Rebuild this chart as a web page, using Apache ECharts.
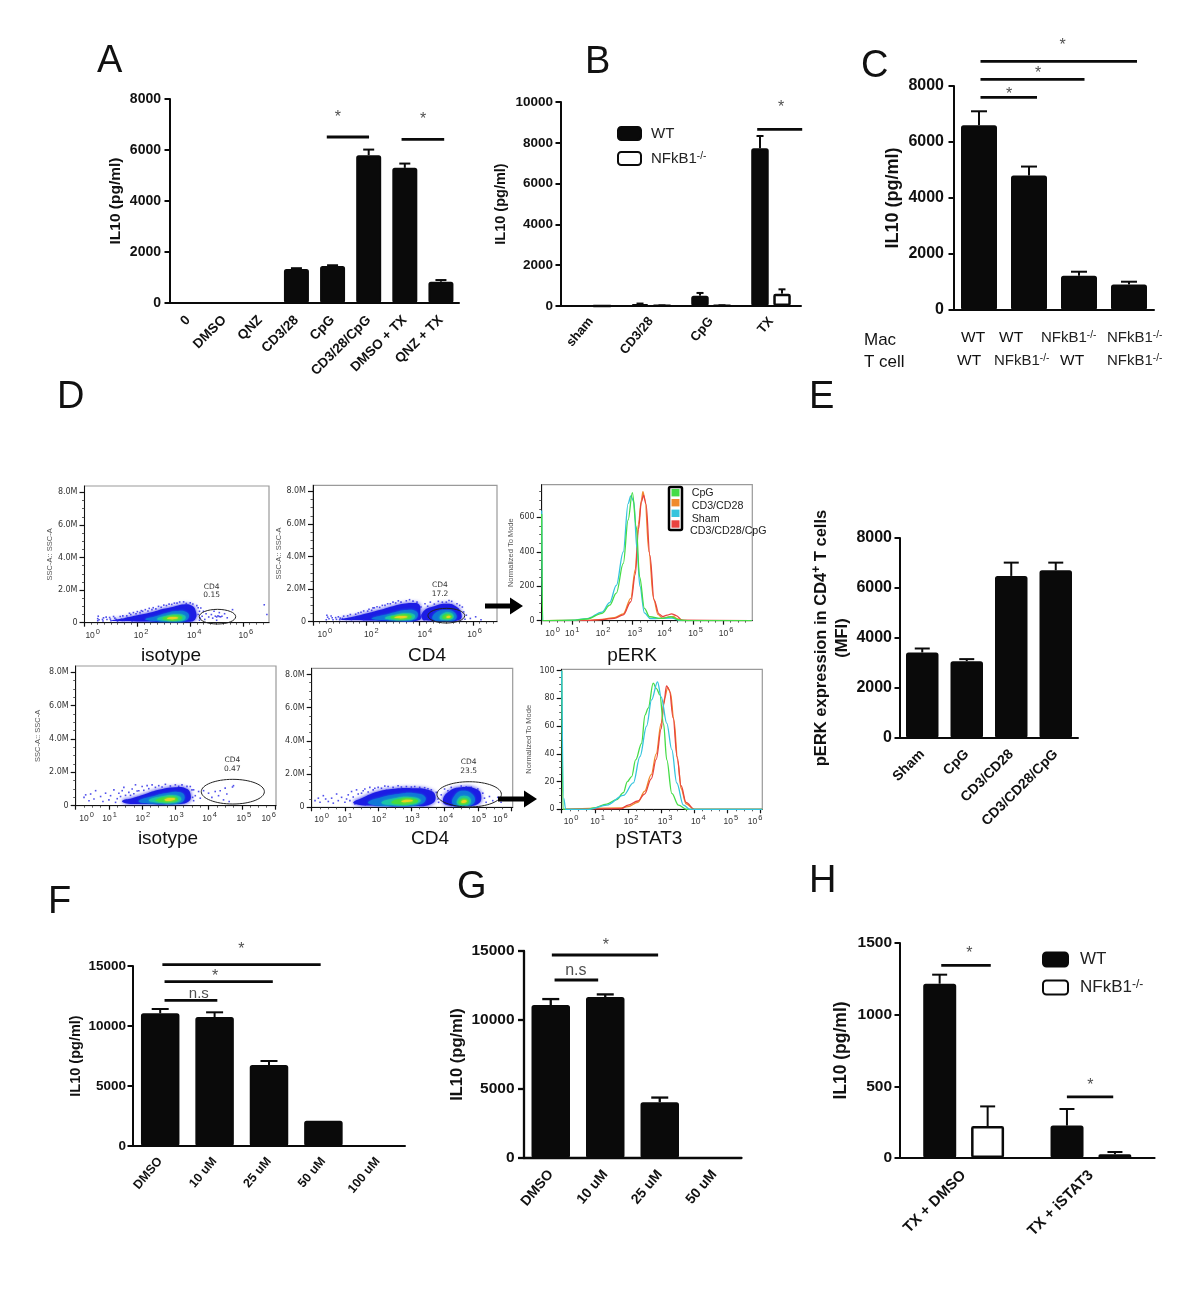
<!DOCTYPE html>
<html><head><meta charset="utf-8">
<style>html,body{margin:0;padding:0;background:#fff}#c{width:1200px;height:1307px}</style>
<script src="https://cdn.jsdelivr.net/npm/echarts@6/dist/echarts.min.js"></script>
</head><body><div id="c"></div>
<script>
// ---------- Bar panel data ----------
const catsA = ['0','DMSO','QNZ','CD3/28','CpG','CD3/28/CpG','DMSO + TX','QNZ + TX'];
const valsA = [0,0,0,1331,1450,5795,5300,835];
const errA  = [0,0,0,1365,1480,6016,5468,900];
const sigA  = [[4.34,5.51,6510],[6.41,7.59,6420]];
const markA = [[4.65,7255,'*'],[7.01,7175,'*']];

const catsB = ['sham','CD3/28','CpG','TX'];
const valsBwt = [0,98,506,7729];
const errBwt  = [0,120,640,8333];
const valsBko = [0,20,25,605];
const errBko  = [0,30,35,817];
const sigB  = [[3.27,4.02,8660]];
const markB = [[3.67,9720,'*']];

const catsC = ['WT/WT','WT/NFkB1-/-','NFkB1-/-/WT','NFkB1-/-/NFkB1-/-'];
const valsC = [6597,4802,1224,915];
const errC  = [7097,5123,1367,1010];
const sigC  = [[.53,3.66,8880],[.53,2.61,8240],[.53,1.66,7597]];
const markC = [[2.17,9427,'*'],[1.68,8430,'*'],[1.1,7680,'*']];

const catsE = ['Sham','CpG','CD3/CD28','CD3/CD28/CpG'];
const valsE = [3421,3075,6483,6709];
const errE  = [3580,3155,7015,7015];

const catsF = ['DMSO','10 uM','25 uM','50 uM','100 uM'];
const valsF = [11055,10750,6750,2111,0];
const errF  = [11417,11140,7083,2111,0];
const sigF  = [[.54,3.45,15108],[.58,2.57,13690],[.58,1.55,12140]];
const markF = [[1.99,16330,'*'],[1.51,14080,'*'],[1.21,12660,'n.s']];

const catsG = ['DMSO','10 uM','25 uM','50 uM'];
const valsG = [11080,11660,4040,0];
const errG  = [11516,11855,4379,0];
const sigG  = [[.52,2.47,14710],[.57,1.37,12900]];
const markG = [[1.51,15390,'*'],[.96,13580,'n.s']];

const catsH = ['TX + DMSO','TX + iSTAT3'];
const valsHwt = [1216,226];
const errHwt  = [1279,342];
const valsHko = [223,26];
const errHko  = [360,42];
const sigH  = [[.324,.713,1344],[1.311,1.675,426]];
const markH = [[.544,1429,'*'],[1.495,507,'*']];

// ---------- Flow cytometry data (x = log10 decade, y = SSC in millions) ----------
const BL='#1c1ce4', TE='#0f78d8', CY='#1cc4a8', GR='#45dc3c', YE='#e8d41e';
const densityIsoTop = [
 [BL,[[1.0,.14],[1.5,.28],[2,.45],[2.5,.62],[3,.85],[3.4,1.0],[3.75,1.12],[4.05,1.05],[4.2,.75],[4.2,.25],[3.95,.06],[3,.05],[2,.08],[1.2,.1]]],
 [TE,[[2.3,.22],[2.7,.4],[3.1,.6],[3.5,.72],[3.85,.65],[3.95,.35],[3.75,.1],[3.1,.08],[2.5,.12]]],
 [CY,[[2.75,.25],[3.1,.43],[3.5,.52],[3.8,.42],[3.78,.18],[3.4,.1],[2.95,.13]]],
 [GR,[[2.95,.27],[3.2,.4],[3.55,.44],[3.7,.3],[3.55,.16],[3.15,.15]]],
 [YE,[[3.12,.28],[3.35,.35],[3.55,.3],[3.42,.22],[3.2,.22]]]];
const strayIsoTop = [[.5,.12],[.5,.25],[.55,.18],[.52,.4],[.7,.1],[.72,.3],[.68,.2],[.85,.2],[.82,.34],[.95,.32],[1,.12],[.98,.22],[1.15,.28],[1.1,.38],[1.25,.1],[1.2,.2],[1.35,.38],[1.4,.22],[1.5,.14],[1.45,.42],[1.6,.42],[1.65,.3],[1.75,.5],[1.7,.58],[1.8,.1],[1.85,.62],[1.95,.55],[2.0,.68],[2.1,.62],[2.15,.74],[2.2,.7],[2.3,.8],[2.4,.72],[2.45,.88],[2.55,.8],[2.6,.92],[2.7,.85],[2.8,1.0],[2.9,.95],[3.0,1.08],[3.1,1.05],[3.2,1.14],[3.3,1.12],[3.4,1.2],[3.5,1.2],[3.6,1.27],[3.75,1.28],[3.85,1.18],[4,1.22],[4.1,1.15],[4.25,1.05],[4.3,.92],[4.4,.9],[4.35,.7],[4.5,.7],[4.3,.5],[4.45,.4],[4.6,.55],[4.38,.28],[4.55,.2],[4.35,.15],[4.7,.35],[4.8,.5],[4.85,.28],[4.95,.4],[5.0,.35],[5.05,.42],[5.1,.38],[5.15,.36],[5.2,.4],[5.1,.62],[4.9,.7],[5.3,.55],[5.4,.3],[6.8,1.1],[6.9,.5],[5.6,.8],[5.0,.15]];

const densityCd4Top = [
 [BL,[[1.0,.14],[1.5,.3],[2,.5],[2.5,.72],[3,.95],[3.4,1.1],[3.75,1.15],[3.98,1.05],[4.02,.6],[3.98,.1],[3,.05],[2,.08],[1.2,.1]]],
 [BL,[[4.1,.15],[4.15,.65],[4.55,.95],[5.0,1.1],[5.35,.95],[5.55,.55],[5.5,.12],[4.8,.05],[4.3,.08]]],
 [TE,[[2.2,.2],[2.7,.42],[3.1,.6],[3.5,.72],[3.85,.65],[3.93,.35],[3.75,.1],[3.1,.08],[2.4,.12]]],
 [CY,[[2.7,.25],[3.1,.43],[3.5,.52],[3.8,.42],[3.78,.18],[3.4,.1],[2.9,.13]]],
 [GR,[[2.9,.27],[3.2,.4],[3.55,.44],[3.7,.3],[3.55,.16],[3.1,.15]]],
 [YE,[[3.05,.28],[3.35,.35],[3.55,.3],[3.42,.22],[3.15,.22]]],
 [TE,[[4.5,.15],[4.6,.55],[5.0,.72],[5.32,.55],[5.35,.15],[5,.08]]],
 [CY,[[4.75,.2],[4.85,.48],[5.15,.55],[5.28,.32],[5.15,.13],[4.9,.12]]],
 [GR,[[4.85,.25],[4.98,.45],[5.15,.42],[5.22,.27],[5.05,.16]]],
 [YE,[[5.0,.28],[5.08,.36],[5.16,.3],[5.08,.22]]]];
const strayCd4Top = [[.5,.12],[.55,.28],[.6,.18],[.52,.4],[.68,.35],[.75,.12],[.72,.24],[.85,.25],[.88,.14],[.95,.3],[1,.12],[1.02,.22],[1.1,.2],[1.15,.34],[1.3,.36],[1.25,.14],[1.45,.14],[1.4,.44],[1.6,.46],[1.55,.24],[1.7,.54],[1.8,.58],[1.9,.12],[1.9,.66],[2.05,.65],[2.1,.76],[2.2,.7],[2.25,.85],[2.3,.85],[2.4,.92],[2.5,.88],[2.6,1.0],[2.7,1.0],[2.8,1.1],[2.9,1.1],[3.0,1.2],[3.1,1.15],[3.2,1.28],[3.3,1.2],[3.5,1.28],[3.62,1.35],[3.75,1.26],[3.9,1.2],[4.05,.9],[4.05,.3],[4.2,1.1],[4.3,.95],[4.4,1.2],[4.55,1.08],[4.7,1.25],[4.85,1.2],[5,1.2],[5.1,1.3],[5.2,1.25],[5.4,1.1],[5.5,1.0],[5.6,.9],[5.65,.6],[5.75,.4],[5.7,.15],[5.9,.2],[4.08,.4],[6.1,.3],[6.3,.12]];

const densityIsoBottom = [
 [BL,[[1.4,.3],[1.7,.45],[2.1,.7],[2.5,.95],[3,1.1],[3.3,1.05],[3.45,.75],[3.4,.25],[3,.1],[2,.1],[1.5,.15]]],
 [TE,[[1.9,.3],[2.3,.55],[2.7,.75],[3.15,.8],[3.28,.5],[3.15,.16],[2.5,.13],[2,.17]]],
 [CY,[[2.2,.32],[2.55,.55],[3.0,.62],[3.18,.4],[3.05,.2],[2.5,.18]]],
 [GR,[[2.4,.33],[2.7,.5],[3.0,.52],[3.08,.36],[2.9,.24],[2.55,.24]]],
 [YE,[[2.68,.38],[2.88,.46],[3.0,.4],[2.86,.3],[2.7,.3]]]];
const strayIsoBottom = [[.25,.5],[.3,.65],[.4,.3],[.45,.7],[.6,.9],[.55,.4],[.75,.55],[.82,.25],[.9,.75],[1,.35],[1.05,.6],[1.15,.95],[1.2,.2],[1.25,.42],[1.3,.75],[1.35,.55],[1.4,.9],[1.45,1.1],[1.5,.62],[1.6,.8],[1.65,.62],[1.7,1.0],[1.75,.72],[1.8,1.25],[1.85,.88],[1.9,.9],[2,1.15],[2.05,.92],[2.15,1.2],[2.2,1.02],[2.3,1.25],[2.4,1.1],[2.5,1.2],[2.6,1.12],[2.7,1.28],[2.85,1.18],[3,1.25],[3.1,1.16],[3.2,1.25],[3.35,1.16],[3.45,1.15],[3.5,.95],[3.55,.95],[3.6,.6],[3.52,.5],[3.7,.85],[3.55,.3],[3.75,.45],[3.85,.9],[4,.75],[4.1,.5],[4.2,.85],[4.3,.6],[4.35,.9],[4.45,.35],[4.55,.7],[4.62,.25],[4.72,1.12],[4.75,1.2],[4.5,1.05]];

const densityCd4Bottom = [
 [BL,[[1.25,.3],[1.5,.55],[2,.95],[2.5,1.12],[3,1.15],[3.5,1.05],[3.72,.7],[3.6,.2],[3,.07],[2,.08],[1.4,.15]]],
 [BL,[[3.95,.35],[4.1,.9],[4.5,1.2],[4.95,1.1],[5.1,.7],[5.0,.2],[4.5,.07],[4.1,.12]]],
 [TE,[[1.7,.3],[2.1,.6],[2.6,.8],[3.1,.85],[3.42,.6],[3.3,.2],[2.6,.1],[1.9,.13]]],
 [CY,[[2.1,.28],[2.5,.55],[3,.62],[3.28,.42],[3.1,.18],[2.5,.13]]],
 [GR,[[2.4,.32],[2.7,.52],[3.05,.52],[3.2,.38],[3,.22],[2.55,.2]]],
 [YE,[[2.7,.38],[2.9,.46],[3.05,.4],[2.88,.32],[2.72,.32]]],
 [TE,[[4.25,.2],[4.3,.7],[4.55,1.0],[4.85,.75],[4.88,.25],[4.55,.1]]],
 [CY,[[4.38,.2],[4.42,.55],[4.6,.7],[4.78,.5],[4.75,.18],[4.55,.12]]],
 [GR,[[4.42,.25],[4.5,.5],[4.65,.52],[4.73,.34],[4.6,.18]]],
 [YE,[[4.5,.32],[4.58,.44],[4.67,.36],[4.58,.26]]]];
const strayCd4Bottom = [[.1,.4],[.2,.55],[.25,.3],[.35,.7],[.42,.5],[.5,.35],[.6,.55],[.65,.25],[.75,.8],[.8,.4],[.9,.6],[1,.3],[1.05,.5],[1.1,.75],[1.15,.4],[1.2,.95],[1.25,.62],[1.3,.2],[1.35,1.05],[1.4,.8],[1.5,.85],[1.55,1.0],[1.6,1.1],[1.7,.92],[1.75,1.2],[1.85,1.05],[1.9,1.15],[2,1.2],[2.1,1.15],[2.2,1.28],[2.3,1.25],[2.45,1.2],[2.6,1.3],[2.7,1.22],[2.85,1.25],[3,1.22],[3.1,1.25],[3.25,1.2],[3.4,1.18],[3.5,1.12],[3.6,1.05],[3.75,.9],[3.8,.5],[3.9,.75],[3.82,.3],[4,1.1],[4.1,1.0],[4.2,1.2],[4.35,1.12],[4.5,1.28],[4.65,1.22],[4.8,1.2],[5.0,1.1],[5.15,.85],[5.2,.55],[5.25,.3],[5.35,.65],[5.45,.4],[5.6,.6],[5.7,.3],[5.85,.45]];

// gate: centre decade, centre y, radius x, radius y
const gateIsoTop = [[5.03,.37,.69,.45]];
const gateCd4Top = [[5.0,.37,.69,.45]];
const gateIsoBottom = [[4.73,.84,.95,.74]];
const gateCd4Bottom = [[4.74,.78,.97,.76]];

// ---------- Histograms (x = log10 decade, y = count) ----------
const erkGreen = [[0,620],[.03,0],[1,3],[1.5,10],[2,43],[2.25,90],[2.47,160],[2.7,333],[2.86,585],[3,744],[3.13,546],[3.24,255],[3.4,72],[3.57,23],[3.96,13],[4.28,23],[4.56,4],[4.9,0],[6.95,0]];
const erkCyan = [[0,640],[.03,0],[1,2],[1.5,12],[2,50],[2.25,105],[2.47,205],[2.7,400],[2.86,680],[2.95,725],[3.05,690],[3.15,420],[3.25,200],[3.4,45],[3.6,12],[4.3,15],[4.6,0],[6.95,0]];
const erkOrange = [[.03,0],[1.5,2],[2,8],[2.4,18],[2.7,40],[2.95,130],[3.1,300],[3.2,560],[3.3,700],[3.35,750],[3.42,700],[3.55,400],[3.7,130],[3.85,35],[4,15],[4.2,20],[4.35,25],[4.5,10],[4.7,0],[6.95,0]];
const erkRed = [[.03,0],[1.5,1],[2,6],[2.4,14],[2.7,34],[2.95,110],[3.1,270],[3.2,530],[3.3,690],[3.37,730],[3.45,680],[3.58,380],[3.72,120],[3.88,40],[4,25],[4.15,32],[4.3,40],[4.45,30],[4.65,3],[6.95,0]];
const statGreen = [[0,100],[.04,0],[.8,0],[.95,1],[1.36,3.8],[1.66,7],[1.86,12],[1.98,20],[2.11,23.6],[2.23,35.6],[2.41,47.6],[2.51,68],[2.61,73],[2.76,91],[2.86,87],[2.96,82.5],[3.07,62],[3.17,35.6],[3.32,11.5],[3.52,3],[3.77,0],[6.05,0]];
const statCyan = [[0,100],[.06,8],[.12,0],[.85,0],[1.36,3],[1.86,10],[2.16,19],[2.36,38],[2.56,60],[2.71,79],[2.89,92],[3,81],[3.17,62],[3.32,43],[3.47,19],[3.67,3],[3.87,0],[6.05,0]];
const statOrange = [[.08,0],[1.8,1],[2,2],[2.3,5],[2.5,13],[2.7,25],[2.85,40],[3,62],[3.1,80],[3.2,88],[3.28,84],[3.38,65],[3.5,35],[3.6,15],[3.75,4],[4,0],[6.05,0]];
const statRed = [[.08,0],[1.8,.5],[2,3],[2.3,6],[2.5,11],[2.7,22],[2.85,36],[3,58],[3.08,76],[3.16,89],[3.25,86],[3.36,66],[3.48,38],[3.6,17],[3.75,5],[4,0],[6.05,0]];

// ---------- Build ----------
const FONT='"Liberation Sans",Arial,sans-serif';
const grid=[],xAxis=[],yAxis=[],series=[],graphic=[];
const INK='#0a0a0a';

function errSeries(xi,yi,data,cap,lw){
  return {type:'custom',xAxisIndex:xi,yAxisIndex:yi,silent:true,clip:false,z:1,data,
    encode:{x:0,y:[1,2]},
    renderItem(p,api){
      const a=api.coord([api.value(0),api.value(1)]),b=api.coord([api.value(0),api.value(2)]);
      const st={stroke:INK,lineWidth:lw,fill:null};
      return {type:'group',children:[
        {type:'line',shape:{x1:a[0],y1:a[1],x2:b[0],y2:b[1]},style:st},
        {type:'line',shape:{x1:b[0]-cap/2,y1:b[1],x2:b[0]+cap/2,y2:b[1]},style:st}]};
    }};
}
function barPanel(c){
  const gi=grid.length, xi=xAxis.length, yi=yAxis.length;
  grid.push({left:c.left,top:c.top,width:c.width,height:c.height});
  const lw=c.lw||2;
  xAxis.push({type:'category',gridIndex:gi,data:c.cats,
    axisLine:{lineStyle:{color:INK,width:lw}},
    axisTick:{alignWithLabel:true,length:5.5,lineStyle:{color:INK,width:lw}},
    axisLabel:{show:c.showLabels!==false,interval:0,rotate:c.rotate||45,margin:c.lmargin||9,color:'#111',
      fontFamily:FONT,fontWeight:'bold',fontSize:c.xfs}});
  xAxis.push({type:'value',gridIndex:gi,min:0,max:c.cats.length,show:false});
  yAxis.push({type:'value',gridIndex:gi,min:0,max:c.max,interval:c.interval,
    name:c.yname,nameLocation:'middle',nameGap:c.ygap,nameRotate:90,
    nameTextStyle:Object.assign({color:'#111',fontFamily:FONT,fontWeight:'bold',fontSize:c.yns},c.nameStyle||{}),
    splitLine:{show:false},
    axisLine:{show:true,lineStyle:{color:INK,width:lw}},
    axisTick:{show:true,length:5.5,lineStyle:{color:INK,width:lw}},
    axisLabel:{color:'#111',margin:c.ymargin||8,fontFamily:FONT,fontWeight:'bold',fontSize:c.yfs,formatter:v=>String(v)}});
  c.bars.forEach(b=>{
    series.push({type:'bar',name:b.name,xAxisIndex:xi,yAxisIndex:yi,data:b.vals,barWidth:c.barWidth,barGap:c.barGap,z:2,silent:true,
      itemStyle:b.hollow?{color:'#fff',borderColor:INK,borderWidth:2.5,borderRadius:1}
                        :{color:INK,borderColor:INK,borderWidth:2,borderRadius:1.5}});
    series.push(errSeries(xi+1,yi,b.errs.map((e,i)=>[i+.5+(b.off||0),b.vals[i],e]).filter(d=>d[2]>d[1]),c.cap,lw));
  });
  (c.sig||[]).forEach(s=>{
    series.push({type:'line',xAxisIndex:xi+1,yAxisIndex:yi,data:[[s[0],s[2]],[s[1],s[2]]],symbol:'none',clip:false,silent:true,z:3,
      lineStyle:{color:INK,width:2.8}});
  });
  if(c.marks) series.push({type:'scatter',xAxisIndex:xi+1,yAxisIndex:yi,clip:false,silent:true,z:3,symbolSize:0,
    data:c.marks.map(m=>({value:[m[0],m[1]],label:{fontSize:m[2]==='*'?16:(c.nsfs||16)}})),
    label:{show:true,position:'inside',color:'#222',fontFamily:FONT,
      formatter:p=>c.marks[p.dataIndex][2]}});
}
function flowPanel(c){
  const gi=grid.length, xi=xAxis.length, yi=yAxis.length;
  grid.push({left:c.left,top:c.top,width:c.right-c.left,height:c.bottom-c.top,show:true,borderColor:'#9a9a9a',borderWidth:1.2,backgroundColor:'#fff'});
  xAxis.push({type:'value',gridIndex:gi,min:0,max:c.xmax,interval:c.xint,
    splitLine:{show:false},
    axisLine:{onZero:false,lineStyle:{color:'#111',width:1}},
    axisTick:{customValues:c.xticks,length:4,lineStyle:{color:'#111',width:1.2}},
    minorTick:{show:true,splitNumber:c.xint===2?8:4,length:2,lineStyle:{color:'#333',width:.8}},
    axisLabel:{customValues:c.xlabelAt,margin:5,color:'#333',
      formatter:v=>{let i=0,bd=1e9;c.xlabelAt.forEach((a,k)=>{if(Math.abs(a-v)<bd){bd=Math.abs(a-v);i=k}});return '{b|10}{s|'+c.xlabelExp[i]+'}'},
      rich:{b:{fontSize:8.5,fontFamily:FONT,color:'#333',padding:[3,0,0,0]},s:{fontSize:7.5,fontFamily:FONT,color:'#333',verticalAlign:'top',padding:[0,0,3,1]}}}});
  yAxis.push({type:'value',gridIndex:gi,min:0,max:c.ymax,interval:c.yint,
    name:c.yname,nameLocation:'middle',nameGap:c.ygap,nameRotate:90,
    nameTextStyle:{color:'#555',fontSize:c.ynfs||7.5,fontFamily:FONT},
    splitLine:{show:false},
    axisLine:{show:true,onZero:false,lineStyle:{color:'#111',width:1}},
    axisTick:{show:true,customValues:c.yticks,length:5,lineStyle:{color:'#111',width:1.2}},
    minorTick:{show:true,splitNumber:4,length:2.5,lineStyle:{color:'#333',width:.8}},
    axisLabel:{customValues:c.yticks,margin:7,color:'#333',fontSize:8,fontFamily:'"DejaVu Sans",'+FONT,
      formatter:c.yfmt}});
  if(c.density){
    series.push({type:'custom',xAxisIndex:xi,yAxisIndex:yi,silent:true,clip:true,z:2,
      data:c.density.map((d,i)=>[i,0]),
      renderItem(p,api){
        const d=c.density[api.value(0)];
        return {type:'polygon',shape:{points:d[1].map(q=>api.coord(q)),smooth:.5},
          style:{fill:d[0],shadowBlur:d[0]===BL?4:2.5,shadowColor:d[0]}};
      }});
    series.push({type:'scatter',xAxisIndex:xi,yAxisIndex:yi,silent:true,z:3,data:c.stray,symbol:'rect',symbolSize:1.6,
      itemStyle:{color:'#2424e6'}});
    series.push({type:'custom',xAxisIndex:xi,yAxisIndex:yi,silent:true,clip:false,z:4,data:c.gate,
      renderItem(p,api){
        const o=api.coord([api.value(0),api.value(1)]),s=api.size([api.value(2),api.value(3)]);
        return {type:'ellipse',shape:{cx:o[0],cy:o[1],rx:s[0],ry:s[1]},style:{fill:null,stroke:'#222',lineWidth:1}};
      }});
  }
  (c.curves||[]).forEach(k=>{
    series.push({type:'line',xAxisIndex:xi,yAxisIndex:yi,data:k[0],symbol:'none',smooth:.35,smoothMonotone:'x',silent:true,z:2,
      lineStyle:{color:k[1],width:1.3}});
  });
}

barPanel({left:170,top:99,width:289,height:204,cats:catsA,max:8000,interval:2000,barWidth:25,cap:11,xfs:13.5,yfs:14,yns:15.5,lmargin:15,
  yname:'IL10 (pg/ml)',ygap:46,bars:[{vals:valsA,errs:errA}],sig:sigA,marks:markA,ymargin:9});
barPanel({left:561,top:102,width:240,height:204,cats:catsB,max:10000,interval:2000,barWidth:17.5,barGap:'26%',cap:7,xfs:13,yfs:13.5,yns:14.5,rotate:50,lmargin:13,
  yname:'IL10 (pg/ml)',ygap:53,bars:[{name:'WT',vals:valsBwt,errs:errBwt,off:-.183},{name:'NFkB1-/-',vals:valsBko,errs:errBko,off:.183,hollow:true}],sig:sigB,marks:markB});
barPanel({left:954,top:86,width:200,height:224,cats:catsC,max:8000,interval:2000,barWidth:36,cap:16,xfs:13,yfs:16,yns:18,showLabels:false,ymargin:10,
  yname:'IL10 (pg/ml)',ygap:52,bars:[{vals:valsC,errs:errC}],sig:sigC,marks:markC});
barPanel({left:900,top:538,width:178,height:200,cats:catsE,max:8000,interval:2000,barWidth:32.5,cap:15,xfs:14,yfs:16,yns:16.5,lmargin:14,
  yname:'{a|pERK expression in CD4}{s|+}{a| T cells}\n{a|(MFI)}',ygap:42,
  nameStyle:{lineHeight:21,rich:{a:{fontFamily:FONT,fontWeight:'bold',fontSize:16.5,color:'#111'},s:{fontFamily:FONT,fontWeight:'bold',fontSize:12,color:'#111',verticalAlign:'top'}}},
  bars:[{vals:valsE,errs:errE}]});
barPanel({left:133,top:966,width:272,height:180,cats:catsF,max:15000,interval:5000,barWidth:38.5,cap:17,xfs:12.5,yfs:13.5,yns:14.5,rotate:50,lmargin:13,ymargin:7,
  yname:'IL10 (pg/ml)',ygap:50,bars:[{vals:valsF,errs:errF}],sig:sigF,marks:markF,nsfs:15});
barPanel({left:523.5,top:951,width:218,height:207,cats:catsG,max:15000,interval:5000,barWidth:38.5,cap:17,xfs:14,yfs:15.5,yns:16.5,rotate:50,lw:2.3,lmargin:14,ymargin:9,
  yname:'IL10 (pg/ml)',ygap:58,bars:[{vals:valsG,errs:errG}],sig:sigG,marks:markG,nsfs:16});
barPanel({left:900,top:943,width:254.6,height:215,cats:catsH,max:1500,interval:500,barWidth:33,barGap:'45%',cap:15,xfs:15,yfs:15.5,yns:17.5,lmargin:15,
  yname:'IL10 (pg/ml)',ygap:50,bars:[{name:'WT',vals:valsHwt,errs:errHwt,off:-.1885},{name:'NFkB1-/-',vals:valsHko,errs:errHko,off:.1885,hollow:true}],sig:sigH,marks:markH});

const fmtM=v=>v===0?'0':v.toFixed(1)+'M';
flowPanel({left:84.5,right:269,top:486,bottom:622.7,xmax:6.98,xint:2,xticks:[0,2,4,6],xlabelAt:[.31,2.14,4.15,6.1],xlabelExp:[0,2,4,6],
  ymax:8.39,yint:2,yticks:[0,2,4,6,8],yfmt:fmtM,yname:'SSC-A:: SSC-A',ygap:30,density:densityIsoTop,stray:strayIsoTop,gate:gateIsoTop});
flowPanel({left:313,right:497,top:485.3,bottom:621.7,xmax:6.9,xint:2,xticks:[0,2,4,6],xlabelAt:[.44,2.19,4.19,6.06],xlabelExp:[0,2,4,6],
  ymax:8.37,yint:2,yticks:[0,2,4,6,8],yfmt:fmtM,yname:'SSC-A:: SSC-A',ygap:30,density:densityCd4Top,stray:strayCd4Top,gate:gateCd4Top});
flowPanel({left:541.7,right:752.3,top:484.7,bottom:620.7,xmax:6.97,xint:1,xticks:[0,1,2,3,4,5,6],xlabelAt:[.36,1.01,2.03,3.08,4.07,5.09,6.1],xlabelExp:[0,1,2,3,4,5,6],
  ymax:790,yint:200,yticks:[0,200,400,600],yfmt:v=>String(v),yname:'Normalized To Mode',ygap:27,
  curves:[[erkOrange,'#f08a2c'],[erkRed,'#e8433f'],[erkCyan,'#35c4dd'],[erkGreen,'#45dc46']]});
flowPanel({left:75.7,right:276,top:666,bottom:805.7,xmax:6.03,xint:1,xticks:[0,1,2,3,4,5,6],xlabelAt:[.33,1.02,2.02,3.03,4.03,5.06,5.81],xlabelExp:[0,1,2,3,4,5,6],
  ymax:8.37,yint:2,yticks:[0,2,4,6,8],yfmt:fmtM,yname:'SSC-A:: SSC-A',ygap:34,density:densityIsoBottom,stray:strayIsoBottom,gate:gateIsoBottom});
flowPanel({left:311.7,right:512.7,top:668.3,bottom:807.3,xmax:6.05,xint:1,xticks:[0,1,2,3,4,5,6],xlabelAt:[.3,1,2.03,3.03,4.04,5.03,5.68],xlabelExp:[0,1,2,3,4,5,6],
  ymax:8.37,yint:2,yticks:[0,2,4,6,8],yfmt:fmtM,density:densityCd4Bottom,stray:strayCd4Bottom,gate:gateCd4Bottom});
flowPanel({left:561.7,right:762.3,top:669.3,bottom:809.3,xmax:6.05,xint:1,xticks:[0,1,2,3,4,5,6],xlabelAt:[.28,1.08,2.09,3.12,4.12,5.1,5.83],xlabelExp:[0,1,2,3,4,5,6],
  ymax:101,yint:20,yticks:[0,20,40,60,80,100],yfmt:v=>String(v),yname:'Normalized To Mode',ygap:29,
  curves:[[statOrange,'#f08a2c'],[statRed,'#e8433f'],[statGreen,'#45dc46'],[statCyan,'#35c4dd']]});

// ---------- Annotations ----------
function T(x,y,text,size,o){
  graphic.push(Object.assign({type:'text',x,y,z:20,silent:true,style:Object.assign({text,fill:'#111',font:size+'px '+FONT,align:'left',verticalAlign:'middle'},o||{})}));
}
[['A',97,62],['B',585,63],['C',861,67],['D',57,398],['E',809,398],['F',48,903],['G',457,888],['H',809,882]].forEach(l=>T(l[1],l[2],l[0],38));
const ko=(s)=>({rich:{a:{font:s+'px '+FONT,fill:'#222'},s:{font:(s-5)+'px '+FONT,fill:'#222',verticalAlign:'top',padding:[0,0,4,0]}}});
T(864,340,'Mac',17);T(864,362,'T cell',17);
[[961,338,'WT'],[999,338,'WT']].forEach(t=>T(t[0],t[1],t[2],15.5));
T(957,361,'WT',15.5);T(1060,361,'WT',15.5);
[[1041,338],[1107,338],[994,361],[1107,361]].forEach(p=>T(p[0],p[1],'{a|NFkB1}{s|-/-}',15,ko(15)));
[['isotype',171,656],['CD4',427,656],['pERK',632,656],['isotype',168,839],['CD4',430,839],['pSTAT3',649,839]].forEach(c=>
  T(c[1],c[2],c[0],19,{align:'center'}));
[['CD4',211.7,586.7],['0.15',211.7,595.3],['CD4',440,585.3],['17.2',440,594],['CD4',232.3,760.3],['0.47',232.3,769],['CD4',468.7,762],['23.5',468.7,771]].forEach(c=>
  T(c[1],c[2],c[0],7.5,{align:'center',fill:'#333',font:'7.5px "DejaVu Sans",'+FONT}));
// pERK legend
graphic.push({type:'rect',z:20,silent:true,shape:{x:669,y:487,width:13,height:43,r:1.5},style:{fill:'#fff',stroke:'#000',lineWidth:2.5}});
[['#45dc46',492.7],['#f08a2c',502.7],['#35c4dd',513.3],['#e8433f',524]].forEach(s=>
  graphic.push({type:'rect',z:21,silent:true,shape:{x:671.5,y:s[1]-3.7,width:8,height:7.4},style:{fill:s[0]}}));
[['CpG',691.7,493],['CD3/CD28',691.7,506],['Sham',691.7,518.7],['CD3/CD28/CpG',690,530.7]].forEach(c=>T(c[1],c[2],c[0],10.7,{fill:'#222'}));
// arrows
function arrow(x0,x1,y){
  graphic.push({type:'polygon',z:22,silent:true,shape:{points:[[x0,y-2.5],[x1-13,y-2.5],[x1-13,y-8.5],[x1,y],[x1-13,y+8.5],[x1-13,y+2.5],[x0,y+2.5]]},style:{fill:'#000'}});
}
arrow(485,523,606);arrow(498,537,799);

const legendBase=(left,top,iw,ih,gap,fs,pad)=>({left,top,padding:0,orient:'vertical',itemWidth:iw,itemHeight:ih,itemGap:gap,icon:'roundRect',selectedMode:false,
  data:['WT','NFkB1-/-'],formatter:n=>n==='WT'?'{a|WT}':'{a|NFkB1}{s|-/-}',
  textStyle:{color:'#222',padding:[0,0,0,pad],rich:{a:{fontFamily:FONT,fontSize:fs,color:'#222'},s:{fontFamily:FONT,fontSize:fs-5,color:'#222',verticalAlign:'top',padding:[0,0,5,0]}}}});

const chart=echarts.init(document.getElementById('c'),null,{renderer:'canvas'});
chart.setOption({animation:false,backgroundColor:'#fff',textStyle:{fontFamily:FONT},
  legend:[legendBase(617,126,23,13,10,15,5),legendBase(1042,951,25,14,11,17,7)],
  grid,xAxis,yAxis,series,graphic});
</script></body></html>
